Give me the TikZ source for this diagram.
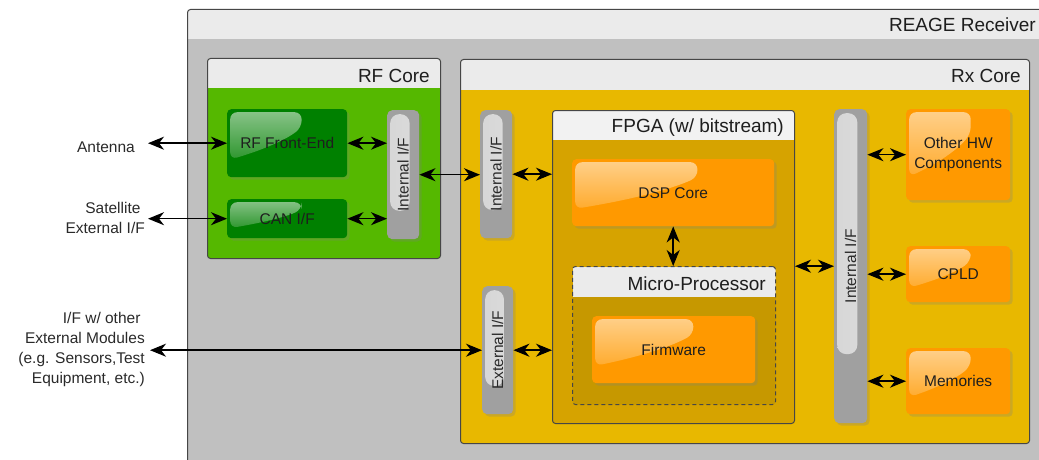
\documentclass[tikz,border=0pt]{standalone}
\usepackage{fontspec}
\setmainfont{Liberation Sans}
\usepackage{graphicx}
\usetikzlibrary{arrows.meta,shadows,fadings,calc}

\definecolor{frame}{HTML}{464646}
\definecolor{hdr}{HTML}{EBEBEB}
\definecolor{hdrlight}{HTML}{F2F2F2}
\definecolor{chassis}{HTML}{C0C0C0}
\definecolor{rfgreen}{HTML}{55B800}
\definecolor{modgreen}{HTML}{008000}
\definecolor{rxyellow}{HTML}{E8B800}
\definecolor{fpgafill}{HTML}{D6A300}
\definecolor{cpufill}{HTML}{C69800}
\definecolor{unitorange}{HTML}{FF9900}
\definecolor{bar}{HTML}{A0A0A0}
\definecolor{ink}{HTML}{1E1E1E}
\definecolor{labelink}{HTML}{2A2A2A}

\tikzfading[name=glossfade, top color=transparent!45, bottom color=transparent!95]

\begin{document}
\begin{tikzpicture}[x=1pt,y=-1pt,
  txt/.style={font=\fontsize{15.5}{20}\selectfont, text=ink},
  ttl/.style={font=\fontsize{19}{22}\selectfont, text=ink, anchor=base east, inner sep=0pt},
  sz/.style 2 args={minimum width=#1pt, minimum height=#2pt},
  container/.style n args={3}{draw=frame, line width=1pt, rounded corners=3pt,
    fill=#2, anchor=north west, inner sep=0pt,
    path picture={\fill[#3, sharp corners] (path picture bounding box.north west)
      rectangle ([yshift=-#1pt]path picture bounding box.north east);}},
  unit/.style={fill=#1, rounded corners=4pt, anchor=north west, inner sep=0pt,
    align=center, txt,
    drop shadow={opacity=0.28, shadow xshift=2.5pt, shadow yshift=-2.5pt},
    path picture={\fill[white, path fading=glossfade, rounded corners=7pt]
      let \p1=(path picture bounding box.north west),
          \p2=(path picture bounding box.south east) in
      ({\x1+3pt},{\y1-3pt}) -- ({\x1+0.62*(\x2-\x1)},{\y1-3pt})
      -- ({\x1+0.62*(\x2-\x1)},{\y1-0.27*(\y1-\y2)})
      .. controls ({\x1+0.45*(\x2-\x1)},{\y1-0.5*(\y1-\y2)})
             and ({\x1+0.2*(\x2-\x1)},{\y1-0.65*(\y1-\y2)})
      .. ({\x1+3pt},{\y1-0.74*(\y1-\y2)}) -- cycle;}},
  ifbar/.style={fill=bar, rounded corners=5pt, anchor=north west, inner sep=0pt,
    txt, text=labelink,
    drop shadow={opacity=0.28, shadow xshift=2.5pt, shadow yshift=-2.5pt},
    path picture={\shade[left color=black!16, middle color=black!3,
        right color=black!14, rounded corners=9pt]
      let \p1=(path picture bounding box.north west),
          \p2=(path picture bounding box.south east) in
      ({\x1+3pt},{\y1-4pt}) rectangle ({\x1+0.7*(\x2-\x1)},{\y1-0.78*(\y1-\y2)});}},
  lbl/.style={font=\fontsize{15.5}{20}\selectfont, text=labelink, inner sep=0pt,
    align=right, anchor=east},
  tip/.tip={Stealth[length=16pt,width=13pt,inset=5pt]},
  biarrow/.style={tip-tip, line width=1.5pt, draw=black},
]

\useasboundingbox (0,0) rectangle (1039,460);
\fill[white] (0,0) rectangle (1039,460);

\begin{scope}
\clip (0,0) rectangle (1039,460);

% ---- enclosures ----
\node[container={30}{chassis}{hdr}, sz={880}{470}] (recv) at (187,9) {};
\node[ttl] (recvt) at (1036,32) {REAGE Receiver};

\node[container={30}{rfgreen}{hdr}, sz={233}{200}] (rfcore) at (207,58) {};
\node[ttl] (rfcoret) at ([shift={(-11,24)}]rfcore.north east) {RF Core};

\node[container={30}{rxyellow}{hdr}, sz={569}{384}] (rxcore) at (460,59) {};
\node[ttl] (rxcoret) at ([shift={(-9,24)}]rxcore.north east) {Rx Core};

\node[container={29}{fpgafill}{hdrlight}, sz={242}{313}] (fpga) at (552,110) {};
\node[ttl] (fpgat) at ([shift={(-11,22)}]fpga.north east) {FPGA (w/ bitstream)};

\node[container={30}{cpufill}{hdr}, sz={203}{138}, dash pattern=on 4pt off 3pt] (cpu) at (572,266) {};
\node[ttl] (cput) at ([shift={(-10,24)}]cpu.north east) {Micro-Processor};

% ---- RF core blocks ----
\node[unit=modgreen, sz={120}{68}] (fe) at (227,109) {RF Front-End};
\node[unit=modgreen, sz={120}{39}] (can) at (227,199) {CAN I/F};
\node[ifbar, sz={32}{129}] (rfif) at (387,110) {\rotatebox{90}{Internal I/F}};

% ---- Rx core blocks ----
\node[ifbar, sz={32}{128}] (rxif) at (480,110) {\rotatebox{90}{Internal I/F}};
\node[ifbar, sz={31}{128}] (extif) at (482,286) {\rotatebox{90}{External I/F}};
\node[unit=unitorange, sz={202}{67}] (dsp) at (572,159) {DSP Core};
\node[unit=unitorange, sz={163}{67}] (fw) at (592,316) {Firmware};
\node[ifbar, sz={33}{314}] (busif) at (834,109) {\rotatebox{90}{Internal I/F}};
\node[unit=unitorange, sz={104}{91}] (hw) at (906,109) {Other HW\\Components};
\node[unit=unitorange, sz={104}{56}] (cpld) at (906,246) {CPLD};
\node[unit=unitorange, sz={104}{66}] (mem) at (906,348) {Memories};

% ---- outside interfaces ----
\node[lbl] (ant) at (135,147) {Antenna};
\node[lbl] (sat) at (145,218) {Satellite\hspace*{0.28em}\\External I/F};
\node[lbl] (mods) at (145,349) {I/F w/ other\hspace*{0.28em}\\External Modules\\(e.g. Sensors,Test\hspace*{0.28em}\\Equipment, etc.)};

% ---- connections ----
\draw[biarrow] ([xshift=13pt]ant.east |- fe.west) -- (fe.west);
\draw[biarrow] ([xshift=3pt]sat.east |- can.west) -- (can.west);
\draw[biarrow] ([xshift=5pt]mods.east |- extif.west) -- (extif.west);

\draw[biarrow] (fe.east) -- (fe.east -| rfif.west);
\draw[biarrow] (can.east) -- (can.east -| rfif.west);
\draw[biarrow] (rfif.east) -- (rfif.east -| rxif.west);
\draw[biarrow] (rxif.east) -- (rxif.east -| fpga.west);
\draw[biarrow] (extif.east) -- (extif.east -| fpga.west);
\draw[biarrow] (dsp.south) -- (dsp.south |- cpu.north);
\draw[biarrow] (busif.west -| fpga.east) -- (busif.west);
\draw[biarrow] (hw.west -| busif.east) -- (hw.west);
\draw[biarrow] (cpld.west -| busif.east) -- (cpld.west);
\draw[biarrow] (mem.west -| busif.east) -- (mem.west);
\end{scope}
\end{tikzpicture}
\end{document}
